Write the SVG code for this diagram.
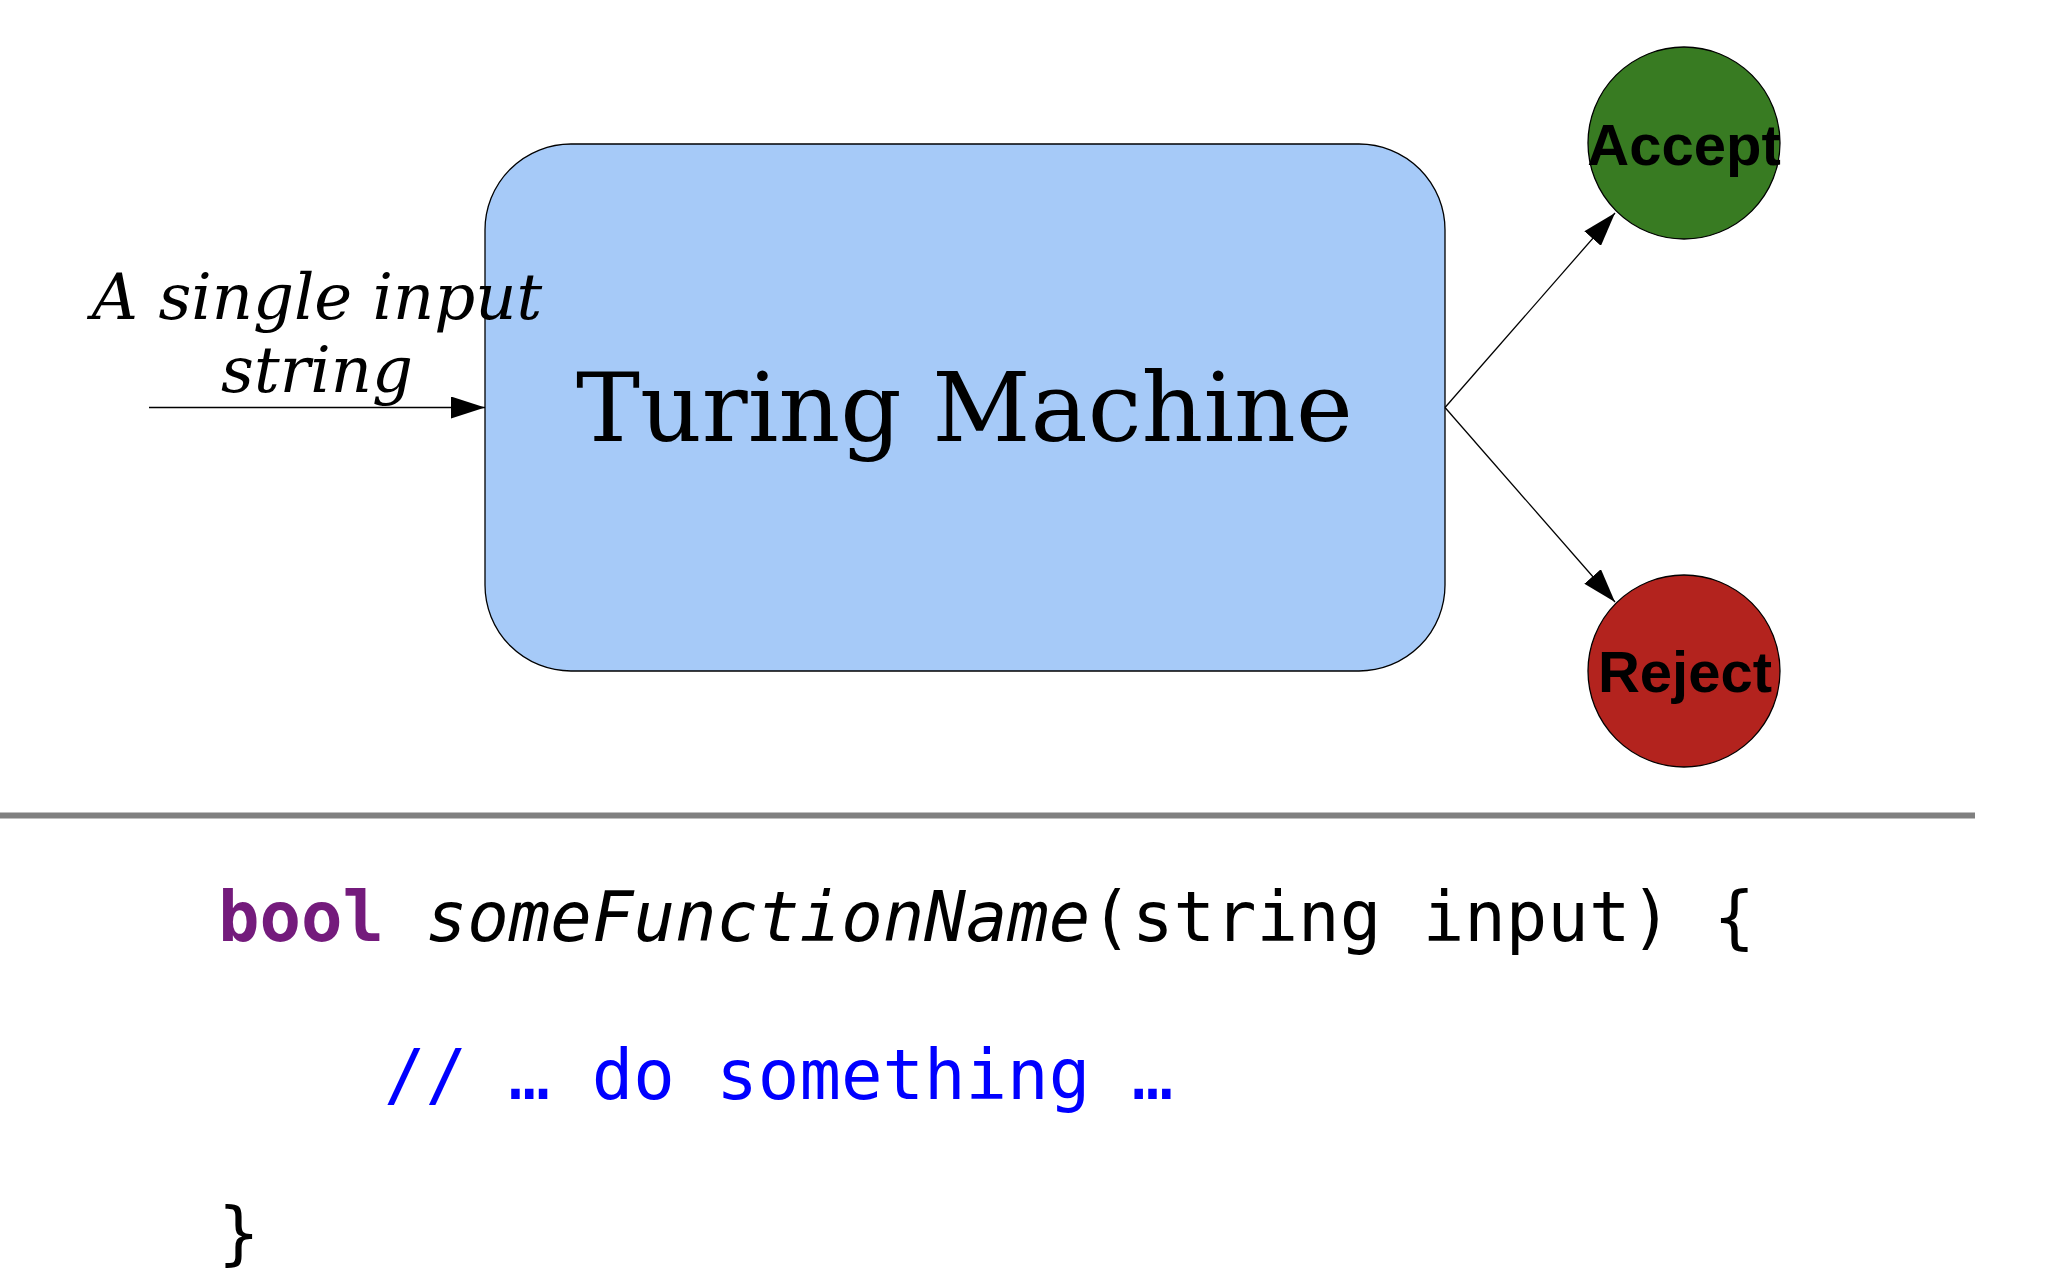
<svg xmlns="http://www.w3.org/2000/svg" width="2048" height="1282" viewBox="0 0 2048 1282">
<style>
.edge{stroke:#000;stroke-width:1.3;fill:none}
.serif{font-family:"DejaVu Serif",serif;fill:#000}
.state{font-family:"Liberation Sans",Arial,sans-serif;font-weight:bold;font-size:58px;fill:#000;text-anchor:middle}
.code{font-family:"DejaVu Sans Mono",monospace;font-size:69px;fill:#000}
.kw{font-weight:bold;fill:#741b7c}
.comment{fill:#0000ff}
</style>
<defs>
<marker id="arr" viewBox="0 0 34 22" refX="34" refY="11" markerWidth="34" markerHeight="22" markerUnits="userSpaceOnUse" orient="auto">
<path d="M0,0 L34,11 L0,22 Z" fill="#000"/>
</marker>
</defs>
<rect width="2048" height="1282" fill="#fff"/>
<g id="tm">
<rect x="485" y="144" width="960" height="527" rx="86" ry="86" fill="#a6caf8" stroke="#000" stroke-width="1.3"/>
<text class="serif" x="576" y="441" font-size="96">Turing Machine</text>
</g>
<g id="accept">
<circle cx="1684" cy="143" r="96" fill="#387b22" stroke="#000" stroke-width="1.3"/>
<text class="state" x="1684" y="165">Accept</text>
</g>
<g id="reject">
<circle cx="1684" cy="671" r="96" fill="#b3231e" stroke="#000" stroke-width="1.3"/>
<text class="state" x="1685" y="692">Reject</text>
</g>
<g id="input-label">
<text class="serif" font-style="italic" font-size="64" text-anchor="middle"><tspan x="317" y="319">A single input</tspan><tspan x="317" y="392">string</tspan></text>
</g>
<g id="connectors">
<line class="edge" x1="149" y1="407.5" x2="485" y2="407.5" marker-end="url(#arr)"/>
<line class="edge" x1="1445" y1="407.5" x2="1615" y2="213" marker-end="url(#arr)"/>
<line class="edge" x1="1445" y1="407.5" x2="1615" y2="602" marker-end="url(#arr)"/>
</g>
<g id="divider">
<line x1="0" y1="815.5" x2="1975" y2="815.5" stroke="#808080" stroke-width="6"/>
</g>
<g id="code">
<text class="code" x="218" y="941"><tspan class="kw">bool</tspan> <tspan font-style="italic">someFunctionName</tspan>(string input) {</text>
<text class="code comment" x="384" y="1099">// … do something …</text>
<text class="code" x="218" y="1257">}</text>
</g>
</svg>
